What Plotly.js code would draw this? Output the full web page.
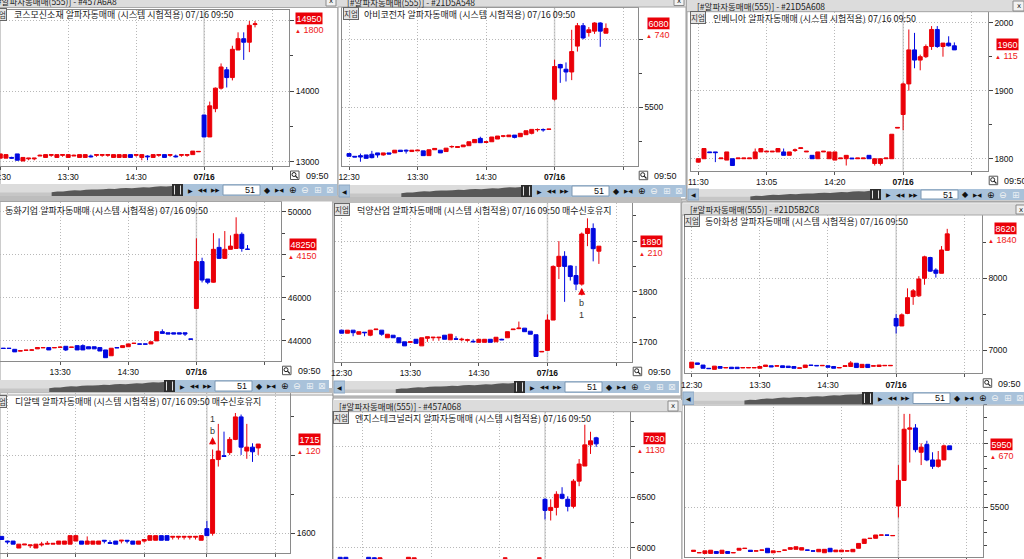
<!DOCTYPE html>
<html><head><meta charset="utf-8">
<script src="https://cdn.plot.ly/plotly-3.0.1.min.js"></script>
<style>html,body{margin:0;padding:0;background:#cfcfcf;}#chart{width:1024px;height:559px;}</style>
</head><body><div id="chart"></div>
<script>
// ---------------- DATA ----------------
const stockNames = ['코스모신소재','아비코전자','인베니아','동화기업','덕양산업','동아화성','디알텍','엔지스테크널러지',''];
const windowCodes = ['#457A6A8','#21D5A548','#21D5A608','','','#21D5B2C8','','#457A068',''];
const windowPrefix = '[#알파자동매매(555)] - ';
const titleSuffix = ' 알파자동매매 (시스템 시험적용) 07/16 09:50';
const holdText = ' 매수신호유지';
const holdSignal = [false,false,false,false,true,false,true,false,false];
const lastPrice = [14950,6080,1960,48250,1890,8620,1715,7030,5950];
const priceChange = [1800,740,115,4150,210,1840,120,1130,670];
const timeLabelsA = ['12:30','13:30','14:30','07/16',''];
const timeLabelsB = ['11:30','13:05','14:20','07/16',''];
const lastTime = '09:50';
const barsShown = 51;
const tagText = '지엄';
const navVolume = [0.35,0.42,0.4,0.48,0.52,0.5,0.56,0.6,0.58,0.62,0.66,0.64,0.7,0.72,0.7,0.76,0.8,0.78,0.84,0.88,0.86,0.92];

// price-axis labels per chart (labels hidden behind the price marker are listed in hiddenPriceLabels)
const priceTicks = [
  [13000,14000,15000],[5500,6000],[1800,1900,2000],[44000,46000,48000,50000],
  [1700,1800,1900],[7000,8000],[1600,1700],[6000,6500,7000],[5500,6000]];
const hiddenPriceLabels = [[15000],[6000],[],[48000],[1900],[],[1700],[7000],[6000]];

// candles: [open, high, low, close]
const kosmoBars = [
[13050,13110,13050,13110],[13050,13100,13050,13100],[13060,13070,13040,13050],[13110,13110,13020,13020],
[13010,13060,13010,13060],[13040,13050,13020,13050],[13040,13050,13020,13050],[13080,13100,13080,13090],
[13060,13100,13060,13100],[13090,13100,13070,13100],[13060,13100,13060,13100],[13090,13100,13070,13100],
[13060,13100,13060,13100],[13080,13100,13080,13090],[13060,13100,13060,13100],[13060,13100,13060,13100],
[13080,13100,13060,13070],[13090,13100,13070,13100],[13090,13100,13070,13100],[13090,13100,13070,13100],
[13060,13100,13060,13100],[13060,13100,13060,13100],[13060,13100,13060,13100],[13100,13100,13060,13060],
[13090,13100,13070,13100],[13060,13100,13020,13100],[13080,13090,13020,13070],[13060,13100,13060,13100],
[13090,13100,13070,13100],[13100,13100,13060,13060],[13090,13100,13070,13100],[13080,13100,13060,13070],
[13090,13100,13070,13100],[13090,13100,13070,13100],[13100,13150,13100,13150],[13140,13150,13140,13145],
[13660,13660,13350,13350],[13350,13850,13350,13790],[13750,14050,13700,14040],[14040,14390,14020,14340],
[14300,14340,14050,14190],[14190,14640,14150,14590],[14580,14830,14580,14740],[14740,14830,14440,14690],
[14690,14990,14550,14930],[14940,14990,14900,14950]];

const abcoBars = [
[5160,5160,5140,5140],[5140,5140,5135,5135],[5145,5160,5100,5135],[5150,5150,5125,5125],
[5155,5180,5125,5130],[5165,5165,5130,5150],[5150,5165,5145,5165],[5165,5165,5155,5157],
[5165,5185,5165,5185],[5185,5185,5175,5175],[5185,5190,5160,5180],[5175,5185,5175,5185],
[5180,5185,5180,5185],[5180,5180,5145,5145],[5145,5190,5145,5188],[5188,5198,5188,5198],
[5185,5185,5165,5165],[5175,5200,5175,5200],[5210,5220,5200,5212],[5205,5211,5203,5211],
[5210,5223,5210,5223],[5218,5247,5218,5247],[5240,5264,5240,5264],[5272,5284,5240,5240],
[5242,5247,5242,5247],[5247,5282,5247,5282],[5267,5289,5267,5289],[5288,5295,5280,5290],
[5284,5296,5284,5296],[5296,5296,5272,5279],[5284,5309,5284,5309],[5299,5328,5299,5328],
[5309,5338,5301,5338],[5335,5345,5321,5337],[5337,5345,5321,5335],[5338,5340,5338,5340],
[5560,5850,5550,5800],[5815,5820,5680,5790],[5780,5830,5690,5760],[5760,6070,5700,5910],
[5950,6120,5910,6100],[6100,6120,6000,6010],[6050,6090,6020,6070],[6060,6125,6040,6120],
[6120,6125,5945,6060],[6045,6117,6044,6080]];

const inveniaBars = [
[1795,1800,1795,1800],[1800,1815,1800,1815],[1810,1810,1809,1809],[1810,1810,1795,1809],
[1800,1801,1800,1801],[1798,1810,1798,1810],[1800,1800,1790,1790],[1800,1801,1800,1801],
[1800,1801,1800,1801],[1800,1801,1800,1801],[1800,1815,1800,1810],[1810,1815,1810,1815],
[1810,1811,1810,1811],[1810,1811,1810,1811],[1810,1815,1810,1815],[1810,1815,1805,1805],
[1805,1810,1805,1810],[1812,1815,1810,1813],[1815,1816,1815,1816],[1810,1811,1810,1811],
[1805,1805,1800,1800],[1800,1810,1800,1810],[1810,1811,1810,1811],[1800,1810,1800,1810],
[1798,1810,1798,1810],[1800,1801,1800,1801],[1800,1805,1790,1805],[1801,1801,1800,1800],
[1800,1801,1800,1801],[1800,1801,1800,1801],[1805,1805,1800,1800],[1793,1800,1790,1800],
[1793,1800,1790,1800],[1800,1801,1800,1801],[1800,1836,1800,1836],[1845,1846,1845,1846],
[1865,1912,1842,1910],[1910,1990,1900,1960],[1960,1985,1933,1945],[1945,1953,1930,1950],
[1950,1968,1948,1965],[1965,1995,1960,1990],[1990,1995,1963,1965],[1965,1970,1950,1970],
[1970,1980,1965,1966],[1966,1971,1960,1960]];

const donghwaBars = [
[43650,43700,43600,43640],[43650,43660,43640,43640],[43650,43650,43640,43640],[43650,43650,43640,43640],
[43600,43600,43480,43480],[43520,43530,43520,43530],[43550,43560,43550,43560],[43560,43600,43550,43570],
[43620,43680,43620,43680],[43670,43680,43670,43680],[43680,43680,43570,43570],[43670,43680,43670,43680],
[43690,43720,43660,43700],[43740,43740,43520,43570],[43690,43700,43690,43700],[43770,43770,43570,43570],
[43770,43830,43570,43570],[43720,43720,43620,43620],[43720,43720,43620,43620],[43680,43680,43520,43520],
[43570,43570,43210,43210],[43300,43650,43300,43650],[43680,43680,43670,43670],[43680,43770,43680,43770],
[43720,43850,43720,43850],[43870,43900,43850,43880],[43850,43850,43840,43840],[43850,43850,43840,43840],
[43850,43950,43850,43950],[43990,44420,43990,44420],[44420,44530,44340,44340],[44370,44370,44310,44310],
[44370,44370,44310,44310],[44370,44370,44310,44310],[44370,44370,44220,44310],[44080,44080,44070,44070],
[45500,48760,45500,47680],[47680,47860,46710,46820],[46870,46870,46630,46720],[46720,49000,46700,48250],
[48340,48760,47800,47830],[47830,49100,47800,48250],[48250,48900,48250,48400],[48290,49740,48290,48950],
[48950,49040,48140,48290],[48260,48450,48250,48250]];

const dukyangBars = [
[1724,1724,1718,1718],[1718,1724,1718,1724],[1724,1724,1712,1719],[1716,1721,1716,1721],
[1720,1720,1712,1719],[1714,1724,1712,1724],[1725,1726,1725,1726],[1724,1724,1713,1716],
[1709,1716,1709,1716],[1714,1714,1709,1709],[1709,1709,1699,1699],[1701,1701,1693,1693],
[1700,1701,1700,1701],[1706,1706,1698,1698],[1693,1709,1693,1709],[1708,1711,1701,1711],
[1709,1710,1703,1710],[1709,1710,1703,1710],[1714,1714,1706,1706],[1705,1716,1705,1716],
[1707,1712,1705,1706],[1705,1709,1702,1706],[1704,1707,1701,1705],[1702,1706,1701,1701],
[1700,1706,1700,1706],[1700,1706,1700,1706],[1706,1706,1700,1700],[1701,1710,1701,1710],
[1706,1707,1705,1705],[1709,1721,1709,1721],[1725,1726,1725,1726],[1727,1741,1726,1728],
[1728,1728,1721,1721],[1722,1722,1716,1716],[1715,1715,1672,1672],[1681,1682,1681,1682],
[1684,1755,1683,1744],[1744,1852,1744,1850],[1850,1900,1825,1870],[1870,1880,1780,1850],
[1851,1852,1822,1830],[1832,1851,1803,1815],[1815,1917,1812,1914],[1915,1945,1890,1925],
[1925,1935,1860,1885],[1880,1890,1855,1890]];

const dongahBars = [
[6750,6830,6750,6830],[6820,6820,6800,6800],[6790,6790,6745,6745],[6745,6745,6740,6740],
[6730,6775,6730,6775],[6770,6770,6745,6745],[6750,6755,6750,6755],[6760,6760,6740,6740],
[6760,6760,6740,6740],[6750,6755,6750,6755],[6750,6755,6750,6755],[6750,6755,6750,6755],
[6745,6770,6745,6770],[6770,6790,6770,6790],[6780,6780,6765,6765],[6775,6780,6775,6780],
[6780,6780,6755,6755],[6775,6775,6755,6755],[6770,6770,6745,6745],[6745,6750,6745,6750],
[6755,6790,6755,6790],[6790,6790,6785,6785],[6785,6785,6780,6780],[6780,6785,6780,6785],
[6780,6780,6760,6760],[6770,6770,6745,6745],[6750,6755,6750,6755],[6770,6780,6770,6780],
[6770,6845,6770,6820],[6815,6815,6755,6755],[6755,6800,6755,6800],[6800,6800,6755,6755],
[6775,6780,6775,6780],[6770,6790,6770,6790],[6780,6785,6780,6785],[6780,6785,6780,6785],
[7440,7500,7230,7335],[7335,7510,7335,7490],[7510,7860,7500,7730],[7745,7850,7630,7825],
[7755,8030,7740,7990],[8000,8315,7910,8300],[8290,8300,8090,8100],[8115,8140,8010,8070],
[8070,8450,8070,8395],[8390,8690,8385,8620]];

const drtechBars = [
[1596,1596,1592,1592],[1590,1590,1586,1589],[1590,1590,1586,1586],[1581,1586,1581,1586],
[1585,1586,1585,1586],[1584,1585,1581,1585],[1581,1586,1581,1586],[1585,1589,1583,1586],
[1586,1590,1586,1587],[1586,1587,1586,1587],[1586,1590,1586,1590],[1586,1590,1586,1590],
[1586,1597,1586,1597],[1590,1597,1590,1597],[1590,1590,1586,1586],[1586,1596,1586,1590],
[1586,1590,1586,1590],[1586,1590,1586,1590],[1591,1591,1587,1590],[1588,1591,1587,1587],
[1590,1590,1586,1586],[1590,1591,1587,1591],[1591,1591,1587,1590],[1590,1590,1586,1586],
[1586,1590,1586,1590],[1590,1592,1588,1592],[1591,1597,1591,1597],[1591,1597,1591,1597],
[1597,1597,1591,1591],[1597,1597,1591,1591],[1595,1596,1592,1596],[1595,1596,1592,1596],
[1595,1596,1592,1596],[1595,1596,1592,1596],[1595,1596,1592,1596],[1591,1597,1591,1597],
[1606,1616,1597,1597],[1600,1708,1597,1695],[1695,1741,1686,1706],[1700,1731,1699,1699],
[1704,1724,1701,1721],[1721,1755,1720,1750],[1750,1753,1701,1711],[1706,1741,1696,1711],
[1711,1716,1692,1705],[1710,1715,1701,1715]];

const engisSlots = [0,1,5,6,7,12,13,29,35,36,37,38,39,40,41,42,43,44,45];
const engisBars = [
[5905,5905,5850,5850],[5905,5905,5850,5860],[5905,5905,5850,5855],[5900,5905,5850,5860],
[5860,5905,5850,5900],[5860,5905,5850,5905],[5860,5900,5850,5900],[5895,5900,5890,5898],
[5895,5900,5890,5898],
[6480,6490,6280,6370],[6370,6480,6270,6400],[6400,6560,6320,6530],[6530,6600,6480,6490],
[6480,6510,6360,6410],[6410,6680,6390,6660],[6660,6880,6610,6830],[6810,7220,6810,7020],
[7020,7150,6930,7060],[7090,7100,7000,7030]];

const p9Bars = [
[5155,5165,5155,5165],[5145,5146,5145,5146],[5140,5160,5140,5160],[5140,5165,5140,5165],
[5155,5155,5140,5140],[5140,5165,5140,5165],[5155,5155,5140,5140],[5145,5146,5145,5146],
[5165,5180,5165,5180],[5178,5180,5178,5180],[5165,5165,5155,5155],[5158,5160,5158,5160],
[5165,5166,5165,5166],[5180,5180,5145,5145],[5145,5160,5145,5160],[5153,5155,5153,5155],
[5165,5166,5165,5166],[5172,5185,5172,5185],[5172,5192,5172,5192],[5166,5185,5166,5185],
[5167,5167,5165,5165],[5160,5160,5158,5158],[5153,5172,5153,5172],[5145,5172,5145,5172],
[5180,5180,5153,5153],[5153,5166,5153,5166],[5153,5166,5153,5166],[5158,5160,5158,5160],
[5153,5172,5153,5172],[5180,5218,5180,5218],[5218,5252,5218,5252],[5256,5258,5256,5258],
[5258,5284,5258,5284],[5282,5284,5282,5284],[5284,5284,5282,5282],[5278,5280,5278,5280],
[5510,5830,5420,5710],[5710,6230,5710,6110],[6110,6230,5850,6120],[6120,6150,5930,5950],
[5930,6000,5830,5970],[5990,6020,5860,5870],[5870,5930,5800,5820],[5820,5940,5810,5870],
[5870,5990,5870,5980],[5980,5980,5950,5950]];

// signals: candle slot, price of arrow tip
const signalSlot = {4: 42, 6: 37};
const signalPrice = {4: 1808, 6: 1724};
const signalText = ['b', '1'];

// ---------------- LAYOUT CONFIG ----------------
const W = 1024, H = 559;
const X = v => v / W, Y = v => 1 - v / H;
const FONT_KR = '"Noto Sans CJK KR", "Noto Sans", sans-serif';
const FONT_NUM = '"Liberation Sans", Arial, sans-serif';
const FONT_SYM = '"DejaVu Sans", sans-serif';
const RED = '#ea0008', BLUE = '#0008e0';

const panels = [
 {bars:kosmoBars, plot:[0,10,289,165.5], xr:[-0.05,51], yr:[12946,15146], mt:500, xt:[0,12,24,36,48], lbl:timeLabelsA,
  win:[0,-3,338,198], tbar:[-4,7.5,-8,1.5], close:[326,-3,336,6], title:[12,14.7], tag:[-9,14.3], sb:{t:184,b:196,R:337,left:false}, boxX:295, chgX:294, bottomInfo:true},
 {bars:abcoBars, plot:[342,8.3,637.7,165.7], xr:[-1.23,50.56], yr:[5071,6228], mt:250, xt:[0,12,24,36,48], lbl:timeLabelsA,
  win:[338,-3,686,199], tbar:[-4,7,345,2], close:[674,-3,684,5.5], title:[362,15], tag:[342.5,13.3], sb:{t:185,b:197,R:686,left:true}, boxX:647, chgX:645, bottomInfo:true},
 {bars:inveniaBars, plot:[691,12,987.7,170.7], xr:[-1.28,50.86], yr:[1782.4,2015.7], mt:50, xt:[0,12,24,36,48], lbl:timeLabelsB,
  win:[687,-3,1030,201], tbar:[-3,11.7,695,5.7], close:[1013,1,1024,11], title:[711,18.3], tag:[690,17.2], sb:{t:189,b:200,R:1035,left:true}, boxX:996, chgX:994, bottomInfo:true},
 {bars:donghwaBars, plot:[0,201.7,281,360.7], xr:[1.41,50.9], yr:[43070,50465], mt:1000, xt:[0,12,24,36,48], lbl:timeLabelsA,
  win:[0,193,333,395], tbarPlain:[193,201.5], title:[3,210.3], tag:null, sb:{t:380,b:392,R:329,left:false}, boxX:289, chgX:287, bottomInfo:true},
 {bars:dukyangBars, plot:[335,203.3,631.7,361.7], xr:[-1.17,50.74], yr:[1661.7,1974.7], mt:50, xt:[0,12,24,36,48], lbl:timeLabelsA,
  win:[333,195,681,396], tbarPlain:[195,203], title:[355,210.3], tag:[334,209.6], sb:{t:381,b:393,R:679,left:true}, boxX:640, chgX:638, bottomInfo:true},
 {bars:dongahBars, plot:[685,215,981.7,373.3], xr:[-1.18,51.07], yr:[6675,8883], mt:500, xt:[0,12,24,36,48], lbl:timeLabelsA,
  win:[682,202,1030,405], tbar:[203.3,215,688,209], close:[1016,205,1026,214], title:[703,221.7], tag:[684,220.7], sb:{t:392,b:404.5,R:1027,left:true}, boxX:994, chgX:987, bottomInfo:true},
 {bars:drtechBars, plot:[0,393.3,290,552.7], xr:[-0.3,50.58], yr:[1575,1780.4], mt:50, xt:[1,13,25,36,48], lbl:timeLabelsA,
  win:[0,389,333,565], tbarPlain:[388,393.3], title:[13,401.7], tag:[-9,401.2], sb:null, boxX:298, chgX:296, bottomInfo:false},
 {bars:engisBars, slots:engisSlots, plot:[333,411.7,630,559], xr:[-1.26,50.94], yr:[5888,7349], mt:250, xt:[4,16,28,36,48], lbl:timeLabelsA,
  win:[333,398,682,565], tbar:[400,411.7,337,405.7], close:[668,401,678,411], title:[353,418.3], tag:[333.3,417.5], sb:null, boxX:643, chgX:636, bottomInfo:false},
 {bars:p9Bars, plot:[685,404,983.3,557], xr:[-1.5,50.92], yr:[5112,6307], mt:100, xt:[2,14,26,36,48], lbl:timeLabelsA,
  win:[682,390,1030,565], title:null, tag:null, sb:null, boxX:990, chgX:989, bottomInfo:false}
];

// ---------------- BUILD ----------------
const shapes = [], annotations = [];
function rect(x0,y0,x1,y1,fill,line,layer){
  shapes.push({type:'rect',xref:'paper',yref:'paper',x0:X(x0),x1:X(x1),y0:Y(y1),y1:Y(y0),
    fillcolor:fill,line:line?{color:line,width:1}:{width:0},layer:layer||'above'});
}
function seg(x0,y0,x1,y1,color,w,layer){
  shapes.push({type:'line',xref:'paper',yref:'paper',x0:X(x0),x1:X(x1),y0:Y(y0),y1:Y(y1),line:{color:color,width:w||1},layer:layer||'above'});
}
function txt(x,y,text,o){
  annotations.push(Object.assign({xref:'paper',yref:'paper',x:X(x),y:Y(y),text:text,showarrow:false,
    xanchor:'left',yanchor:'middle',font:{family:FONT_KR,size:9,color:'#1a1a1a'}},o||{}));
}
function sym(x,y,g,size,color){
  txt(x,y,g,{xanchor:'center',font:{family:FONT_SYM,size:size,color:color||'#111'}});
}

function scrollbar(sb, winL){
  const t = sb.t, b = sb.b, R = sb.R;
  const hL = R-165, hR = R-154;
  let trackL = winL;
  if (sb.left){
    rect(winL+1,t,winL+12,b,'#a9c2da','#8ea8c3');
    sym(winL+6.5,(t+b)/2,'◀',6);
    trackL = winL+12;
  }
  rect(trackL,t,hL,b,'#dcdcdc');
  const x0 = trackL + (hL-trackL)*0.3;
  rect(trackL,b-(b-t)*0.3,x0,b,'#c6c6c6');
  let d = 'M '+X(x0)+' '+Y(b);
  navVolume.forEach((v,i)=>{
    const xx = x0 + (hL-x0)*i/(navVolume.length-1);
    d += ' L '+X(xx)+' '+Y(b-(b-t-1)*v);
  });
  d += ' L '+X(hL)+' '+Y(b)+' Z';
  shapes.push({type:'path',xref:'paper',yref:'paper',path:d,fillcolor:'#585858',line:{width:0},layer:'above'});
  rect(hL,t,hR,b,'#2c2c2c');
  seg(hL+2.5,t+1.5,hL+2.5,b-1.5,'#e0e0e0',1);
  seg(hR-2.5,t+1.5,hR-2.5,b-1.5,'#e0e0e0',1);
  rect(hR,t,R,b,'#a9c2da');
  rect(R-114,t+1,R-77,b-1,'#ffffff','#7d98b3');
  txt(R-80,(t+b)/2,String(barsShown),{xanchor:'right',font:{family:FONT_NUM,size:9,color:'#111'}});
  const cy = (t+b)/2;
  sym(R-147,cy,'▶',6); sym(R-135,cy,'◀◀',5.5); sym(R-122,cy,'▶▶',5.5);
  sym(R-70,cy,'◆',8); sym(R-58,cy,'▶◀',5.5);
  sym(R-44,cy,'⊕',9); sym(R-32,cy,'⊖',9,'#f4f4f4'); sym(R-19,cy,'⊞',9,'#e8eef4'); sym(R-7,cy,'⊠',9,'#e8eef4');
}

const order = [6,7,8,3,4,5,0,1,2];
order.forEach(k=>{
  const p = panels[k];
  const [wl,wt,wr,wb] = p.win;
  rect(wl,wt,wr,wb,'#ffffff','#9a9a9a','below');
  if (p.tbar){
    const [t0,t1,tx,ty] = p.tbar;
    rect(wl,t0,wr,t1,'#dcdcdc');
    seg(wl,t1,wr,t1,'#a8a8a8',1);
    txt(tx,ty,windowPrefix+windowCodes[k],{font:{family:FONT_KR,size:8.5,color:'#222'}});
    const c = p.close;
    rect(c[0],c[1],c[2],c[3],'#f2f2f2','#8a8a8a');
    sym((c[0]+c[2])/2,(c[1]+c[3])/2,'x',7,'#222');
  }
  if (p.tbarPlain){
    rect(wl,p.tbarPlain[0],wr,p.tbarPlain[1],'#bdbdbd');
  }
  if (p.sb) scrollbar(p.sb, wl);
  if (p.bottomInfo){
    const Rp = p.plot[2], B = p.plot[3];
    rect(Rp+1.5,B+5.5,Rp+10,B+14,'#ffffff','#555555');
    shapes.push({type:'circle',xref:'paper',yref:'paper',x0:X(Rp+3),x1:X(Rp+7),y0:Y(B+11),y1:Y(B+7),line:{color:'#222',width:1},layer:'above'});
    seg(Rp+6.5,B+10.5,Rp+8.8,B+12.8,'#222',1.2);
    txt(Rp+28,B+10.5,lastTime,{xanchor:'center',font:{family:FONT_NUM,size:9,color:'#111'}});
  }
});

const layout = {width:W,height:H,margin:{l:0,r:0,t:0,b:0},paper_bgcolor:'#cfcfcf',plot_bgcolor:'rgba(0,0,0,0)',
  showlegend:false,boxgap:0.3,boxgroupgap:0,font:{family:FONT_NUM,size:9,color:'#111'}};
const traces = [];

panels.forEach((p,k)=>{
  const s = k===0 ? '' : String(k+1);
  const slots = p.slots || p.bars.map((_,i)=>i);
  traces.push({type:'candlestick',xaxis:'x'+s,yaxis:'y'+s,x:slots,
    open:p.bars.map(b=>b[0]),high:p.bars.map(b=>b[1]),low:p.bars.map(b=>b[2]),close:p.bars.map(b=>b[3]),
    increasing:{line:{color:RED,width:1},fillcolor:RED},decreasing:{line:{color:BLUE,width:1},fillcolor:BLUE},
    whiskerwidth:0,hoverinfo:'skip',showlegend:false});
  const [L,T,R,B] = p.plot;
  layout['xaxis'+s] = {domain:[X(L),X(R)],anchor:'y'+s,range:p.xr,tickmode:'array',tickvals:p.xt,
    ticktext:p.lbl.map(t=>t==='07/16'?'<b>07/16</b>':t),showticklabels:p.bottomInfo,ticks:'outside',ticklen:3,tickcolor:'#555',
    showgrid:true,gridcolor:'#b8b8b8',griddash:'1px,2px',gridwidth:1,zeroline:false,
    showline:true,mirror:true,linecolor:'#8a8a8a',linewidth:1,
    tickfont:{family:FONT_NUM,size:8.5,color:'#111'},rangeslider:{visible:false},fixedrange:true,ticklabeloverflow:'allow'};
  const tv = priceTicks[k];
  layout['yaxis'+s] = {domain:[Y(B),Y(T)],anchor:'x'+s,side:'right',range:p.yr,tickmode:'array',tickvals:tv,
    ticktext:tv.map(v=>hiddenPriceLabels[k].includes(v)?'':String(v)),
    ticks:'outside',ticklen:4,tickcolor:'#444',
    minor:{tickmode:'linear',tick0:0,dtick:p.mt,ticks:'outside',ticklen:3,tickcolor:'#444',showgrid:false},
    showgrid:true,gridcolor:'#b8b8b8',griddash:'1px,2px',gridwidth:1,zeroline:false,
    showline:true,mirror:true,linecolor:'#8a8a8a',linewidth:1,
    tickfont:{family:FONT_NUM,size:8.5,color:'#111'},fixedrange:true,ticklabeloverflow:'allow'};
  // session divider (07/16)
  shapes.push({type:'line',xref:'x'+s,yref:'y'+s+' domain',x0:36,x1:36,y0:0,y1:1,line:{color:'#d2d2d2',width:1.5},layer:'below'});
  // chart caption
  if (p.tag) txt(p.tag[0],p.tag[1],tagText,{bgcolor:'#e4e4e4',bordercolor:'#666',borderwidth:1,borderpad:0,font:{family:FONT_KR,size:7.5,color:'#333'}});
  if (p.title) txt(p.title[0],p.title[1],stockNames[k]+titleSuffix+(holdSignal[k]?holdText:''),{font:{family:FONT_KR,size:9,color:'#1a1a1a'}});
  // last price box and change
  annotations.push({xref:'paper',yref:'y'+s,x:X(p.boxX),y:lastPrice[k],yshift:5,xanchor:'left',yanchor:'middle',
    text:String(lastPrice[k]),showarrow:false,bgcolor:RED,borderpad:0.5,font:{family:FONT_NUM,size:9,color:'#ffffff'}});
  annotations.push({xref:'paper',yref:'y'+s,x:X(p.chgX),y:lastPrice[k],yshift:-6.5,xanchor:'left',yanchor:'middle',
    text:'<span style="font-size:6px">▲</span> '+priceChange[k],showarrow:false,bgcolor:'#ffffff',borderpad:0,
    font:{family:FONT_NUM,size:9,color:'#f01818'}});
  // buy signal marks
  if (signalSlot[k] !== undefined){
    const above = k===6;
    annotations.push({xref:'x'+s,yref:'y'+s,x:signalSlot[k],y:signalPrice[k],text:'',showarrow:true,ax:0,ay:9,
      arrowhead:2,arrowsize:0.9,arrowwidth:1.6,arrowcolor:RED});
    annotations.push({xref:'x'+s,yref:'y'+s,x:signalSlot[k],y:signalPrice[k],yshift:above?6.5:-15,text:signalText[0],showarrow:false,
      font:{family:FONT_NUM,size:9,color:'#333'}});
    annotations.push({xref:'x'+s,yref:'y'+s,x:signalSlot[k],y:signalPrice[k],yshift:above?18:-27,text:signalText[1],showarrow:false,
      font:{family:FONT_NUM,size:9,color:'#333'}});
  }
});

layout.shapes = shapes;
layout.annotations = annotations;
Plotly.newPlot('chart',traces,layout,{staticPlot:true,displayModeBar:false});
</script></body></html>
